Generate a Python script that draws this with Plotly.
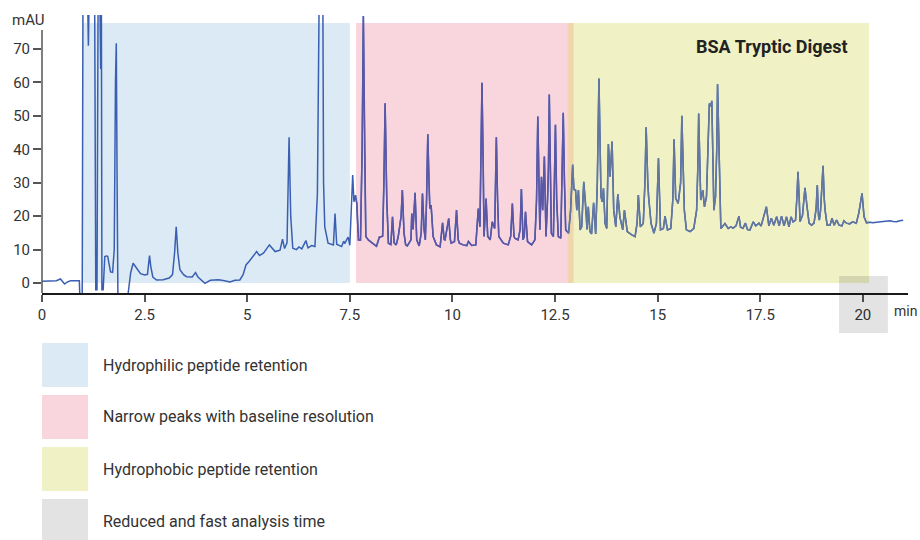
import numpy as np
import plotly.graph_objects as go

# chromatogram (time in min, absorbance in mAU)
time_min = [
    0.00, 0.20, 0.35, 0.45, 0.50, 0.55, 0.62, 0.70, 0.91, 0.92, 0.98, 1.00, 1.10, 1.13, 1.16,
    1.28, 1.31, 1.34, 1.37, 1.40, 1.43, 1.445, 1.46, 1.49, 1.53, 1.57, 1.60, 1.67, 1.72, 1.76,
    1.79, 1.81, 1.83, 1.85, 1.95, 2.05, 2.10, 2.16, 2.22, 2.30, 2.40, 2.50, 2.57, 2.60, 2.62,
    2.65, 2.70, 2.79, 2.95, 3.10, 3.18, 3.23, 3.27, 3.31, 3.36, 3.45, 3.52, 3.66, 3.74, 3.80,
    3.97, 4.10, 4.30, 4.45, 4.58, 4.70, 4.82, 4.90, 4.97, 5.05, 5.15, 5.23, 5.30, 5.40, 5.54,
    5.62, 5.68, 5.80, 5.86, 5.91, 5.97, 6.02, 6.06, 6.11, 6.20, 6.26, 6.33, 6.43, 6.48, 6.57,
    6.65, 6.71, 6.74, 6.76, 6.84, 6.86, 6.89, 6.97, 7.10, 7.14, 7.18, 7.30, 7.35, 7.38, 7.42,
    7.46, 7.50, 7.57, 7.60, 7.64, 7.67, 7.71, 7.76, 7.80, 7.83, 7.86, 7.89, 7.95, 8.07, 8.15,
    8.22, 8.30, 8.33, 8.36, 8.40, 8.44, 8.50, 8.54, 8.58, 8.63, 8.68, 8.75, 8.78, 8.82, 8.86,
    8.90, 8.99, 9.01, 9.04, 9.09, 9.13, 9.19, 9.24, 9.27, 9.31, 9.34, 9.37, 9.40, 9.43, 9.45,
    9.48, 9.53, 9.61, 9.70, 9.76, 9.80, 9.82, 9.87, 9.91, 9.95, 9.97, 10.05, 10.10, 10.14, 10.17,
    10.26, 10.35, 10.39, 10.47, 10.57, 10.63, 10.67, 10.70, 10.72, 10.75, 10.77, 10.82, 10.86, 10.92, 10.97,
    11.03, 11.05, 11.07, 11.10, 11.13, 11.24, 11.36, 11.42, 11.46, 11.50, 11.52, 11.60, 11.65, 11.68, 11.72,
    11.75, 11.78, 11.83, 11.93, 12.01, 12.05, 12.08, 12.11, 12.13, 12.17, 12.20, 12.24, 12.28, 12.32, 12.34,
    12.36, 12.39, 12.41, 12.46, 12.49, 12.51, 12.54, 12.58, 12.64, 12.67, 12.70, 12.73, 12.76, 12.83, 12.88,
    12.93, 12.96, 13.00, 13.03, 13.07, 13.11, 13.15, 13.20, 13.25, 13.28, 13.31, 13.35, 13.39, 13.44, 13.49,
    13.53, 13.57, 13.60, 13.62, 13.65, 13.68, 13.72, 13.76, 13.80, 13.84, 13.89, 13.93, 13.98, 14.03, 14.08,
    14.15, 14.19, 14.26, 14.37, 14.45, 14.50, 14.53, 14.58, 14.65, 14.69, 14.72, 14.76, 14.78, 14.84, 14.91,
    14.97, 15.02, 15.07, 15.14, 15.18, 15.24, 15.32, 15.37, 15.40, 15.44, 15.50, 15.56, 15.59, 15.62, 15.65,
    15.70, 15.79, 15.88, 15.95, 15.98, 16.00, 16.03, 16.05, 16.10, 16.14, 16.19, 16.23, 16.26, 16.29, 16.32,
    16.35, 16.37, 16.41, 16.44, 16.46, 16.49, 16.51, 16.54, 16.64, 16.72, 16.78, 16.84, 16.91, 16.98, 17.02,
    17.08, 17.14, 17.19, 17.25, 17.33, 17.39, 17.47, 17.52, 17.57, 17.65, 17.71, 17.77, 17.83, 17.90, 17.96,
    18.02, 18.08, 18.14, 18.20, 18.25, 18.30, 18.36, 18.39, 18.42, 18.45, 18.47, 18.53, 18.56, 18.59, 18.64,
    18.69, 18.75, 18.81, 18.86, 18.89, 18.92, 18.94, 18.97, 19.00, 19.03, 19.06, 19.08, 19.13, 19.20, 19.25,
    19.30, 19.36, 19.42, 19.49, 19.54, 19.60, 19.68, 19.75, 19.84, 19.90, 19.98, 20.03, 20.09, 20.17, 20.25,
    20.33, 20.41, 20.50, 20.58, 20.66, 20.74, 20.82, 20.90, 20.98,
]
absorbance_mau = [
    0.5, 0.6, 0.7, 1.2, 0.6, -0.3, 0.3, 0.7, 0.7, -3.5, -3.5, 95, 95, 71, 95,
    95, -2, -2, 95, 95, 64, 95, -2, -2, 7.9, 8.1, 8.0, 3.3, 3.2, 10,
    60, 71.7, 30, -5, -5, -5, -3, 3, 5.9, 4.5, 2.8, 2.4, 2.6, 6, 8.2,
    5, 1.8, 0.9, 1.0, 1.5, 2.5, 9, 16.8, 9, 4, 2.5, 1.9, 1.8, 3.1, 1.8,
    -0.1, 0.8, 1.0, 0.7, 0.3, 0.8, 0.9, 2.5, 5.4, 6.5, 8.0, 9.4, 8.2, 9.0, 11.4,
    10.2, 9.4, 9.8, 13.1, 10.3, 12, 43.6, 20, 10.4, 10.0, 10.8, 10.2, 12.7, 10.5, 11.2,
    10.9, 26.8, 60, 95, 95, 30, 16.8, 11.9, 11.4, 20.8, 11.6, 10.9, 12.5, 11.8, 12.9,
    13.7, 11.3, 32.3, 24.3, 26.3, 23.7, 12.9, 12.9, 40, 79.9, 40, 13.9, 12.9, 11.9, 11.0,
    13.7, 14, 30, 53.8, 25, 11.9, 11.5, 19.8, 12, 11.4, 13.9, 20, 27.8, 15, 11.4,
    11.1, 12.9, 20.8, 16, 27.0, 12.9, 11.1, 15, 26.8, 16, 12.9, 25, 44.5, 30, 22.3,
    23.3, 13.9, 11.4, 10.8, 18.0, 13, 12.9, 17, 19.3, 13, 11.9, 12.4, 21.8, 13, 11.9,
    11.4, 11.2, 12.4, 11.2, 11.4, 22.3, 16.8, 40, 59.9, 35, 13.9, 25.3, 13.9, 12.9, 18.3,
    16.3, 30, 43.6, 25, 13.9, 11.9, 11.4, 14, 23.8, 14, 13.4, 12.9, 16, 28.1, 12.9,
    14, 21.3, 12.4, 11.4, 12.9, 25, 49.8, 25, 15.9, 31.8, 21.8, 37.8, 13.9, 25.8, 35,
    56.4, 30, 14.9, 13.9, 30, 47.3, 25, 13.9, 13.4, 30, 50.9, 30, 15.9, 14.9, 21.8,
    35.4, 28, 27.8, 21.8, 27.8, 15.9, 16.8, 30.3, 22.8, 16, 22.8, 15.4, 14.7, 24.0, 14.7,
    30, 61.2, 35, 25.8, 24.3, 28.3, 17.8, 16.3, 41.6, 31.8, 42.3, 21.8, 16.8, 26.6, 19.8,
    15.9, 21.8, 15.4, 14.4, 13.9, 18, 26.3, 16.8, 17.8, 30, 46.6, 30, 25.8, 17.8, 14.9,
    17.8, 37.3, 15.9, 16.3, 20.0, 15.9, 16.3, 25, 43.0, 25.3, 23.8, 30, 50.0, 30, 21.8,
    15.9, 15.4, 16.3, 21.8, 35, 50.7, 35, 24.8, 27.8, 22.8, 25.8, 40, 53.7, 52.7, 54.5,
    35, 21.8, 25.8, 40, 59.5, 40, 25.8, 16.3, 17.8, 16.3, 16.8, 16.4, 17.1, 20.0, 16.7,
    16.4, 17.9, 16.0, 15.9, 18.3, 17.1, 17.9, 17.0, 19.4, 22.8, 17.1, 19.4, 17.3, 19.8, 17.1,
    20.0, 17.1, 19.8, 16.8, 19.8, 18.3, 18.8, 25, 33.3, 25, 18.3, 20.3, 25, 28.5, 22.8,
    17.9, 17.3, 17.9, 22, 29.3, 20, 18.8, 21.8, 28, 35.1, 25, 21.8, 17.3, 17.3, 19.4,
    17.3, 18.8, 17.3, 17.1, 18.6, 17.9, 17.7, 18.3, 17.9, 20.8, 26.8, 19.8, 18.0, 18.2, 18.0,
    18.2, 18.3, 18.2, 18.3, 18.6, 18.4, 18.3, 18.6, 18.8,
]

# shaded retention windows
region_names = ["Hydrophilic peptide retention",
                "Narrow peaks with baseline resolution",
                "Hydrophobic peptide retention"]
region_start = [1.0, 7.65, 12.8]
region_end = [7.5, 12.95, 20.15]
region_fill = ["#dbeaf5", "#f9d6de", "#f0f1c5"]
region_line = ["#3a5fb2", "#5b56a5", "#63779f"]
region_top = 77.8

overlap_fill = "#efd6ad"
fast_label = "Reduced and fast analysis time"
fast_fill = "#e3e3e3"
fast_start, fast_end = 19.42, 20.61

x_range = [0, 21.1]
y_range = [-2.99, 80.17]
x_ticks = [0, 2.5, 5, 7.5, 10, 12.5, 15, 17.5, 20]
y_ticks = [0, 10, 20, 30, 40, 50, 60, 70]

FONT = "Roboto, Arial, sans-serif"

t = np.array(time_min)
a = np.array(absorbance_mau)

fig = go.Figure()

# whole trace in blue, then each shaded window re-drawn in its tint
fig.add_trace(go.Scatter(x=t, y=a, mode="lines", line=dict(color="#3a5fb2", width=1.5),
                         showlegend=False, hoverinfo="skip"))
for i in range(1, 3):
    lo = region_start[i]
    hi = region_end[i] if i == 2 else region_start[2]
    m = (t > lo) & (t < hi)
    xs = np.concatenate([[lo], t[m], [hi]])
    ys = np.concatenate([[np.interp(lo, t, a)], a[m], [np.interp(hi, t, a)]])
    fig.add_trace(go.Scatter(x=xs, y=ys, mode="lines", line=dict(color=region_line[i], width=1.5),
                             showlegend=False, hoverinfo="skip"))

shapes = []
for i in range(3):
    shapes.append(dict(type="rect", xref="x", yref="y", x0=region_start[i], x1=region_end[i],
                       y0=0, y1=region_top, fillcolor=region_fill[i], line_width=0, layer="below"))
shapes.append(dict(type="rect", xref="x", yref="y", x0=region_start[2], x1=region_end[1],
                   y0=0, y1=region_top, fillcolor=overlap_fill, line_width=0, layer="below"))

# y axis line stops short of the top of the plot
shapes.append(dict(type="line", xref="paper", yref="y", x0=0, x1=0, y0=y_range[0], y1=75.7,
                   line=dict(color="#555555", width=1.5)))

# grey box around the 20 min tick
span = x_range[1] - x_range[0]
shapes.append(dict(type="rect", xref="paper", yref="paper",
                   x0=(fast_start - x_range[0]) / span, x1=(fast_end - x_range[0]) / span,
                   y0=-0.144, y1=0.061, fillcolor="rgba(0,0,0,0.11)", line_width=0, layer="above"))

# legend swatches below the chart
plot_top, plot_h = 15, 278
legend_names = region_names + [fast_label]
legend_fill = region_fill + [fast_fill]
annotations = []
for i, (name, col) in enumerate(zip(legend_names, legend_fill)):
    top = 343 + i * 52
    bot = top + 44
    shapes.append(dict(type="rect", xref="paper", yref="paper", x0=0, x1=46 / 866,
                       y0=(plot_top + plot_h - bot) / plot_h, y1=(plot_top + plot_h - top) / plot_h,
                       fillcolor=col, line_width=0))
    annotations.append(dict(xref="paper", yref="paper", x=59 / 866,
                            y=(plot_top + plot_h - (top + 22)) / plot_h,
                            text=name, showarrow=False, xanchor="left", yanchor="middle",
                            font=dict(family=FONT, size=16, color="#333333")))

annotations.append(dict(xref="paper", yref="paper", x=-0.016, y=0.982, text="mAU", showarrow=False,
                        xanchor="center", yanchor="middle",
                        font=dict(family=FONT, size=15, color="#333333")))
annotations.append(dict(xref="paper", yref="paper", x=0.981, y=-0.065, text="min", showarrow=False,
                        xanchor="left", yanchor="middle",
                        font=dict(family=FONT, size=14, color="#333333")))
annotations.append(dict(xref="paper", yref="paper", x=0.933, y=0.885, text="<b>BSA Tryptic Digest</b>",
                        showarrow=False, xanchor="right", yanchor="middle",
                        font=dict(family=FONT, size=18, color="#222222")))

fig.update_layout(
    width=920, height=540,
    margin=dict(l=42, r=12, t=15, b=247),
    paper_bgcolor="white", plot_bgcolor="rgba(0,0,0,0)",
    shapes=shapes, annotations=annotations,
    font=dict(family=FONT, size=15, color="#333333"),
    xaxis=dict(range=x_range, tickvals=x_ticks, ticktext=[f"{v:g}" for v in x_ticks],
               showgrid=False, zeroline=False, showline=True, linecolor="#1a1a1a", linewidth=2,
               ticks="outside", ticklen=7, tickwidth=2, tickcolor="#555555",
               tickfont=dict(family=FONT, size=15, color="#333333")),
    yaxis=dict(range=y_range, tickvals=y_ticks, showgrid=False, zeroline=False, showline=False,
               ticks="outside", ticklen=8, tickwidth=1.5, tickcolor="#555555",
               tickfont=dict(family=FONT, size=15, color="#333333")),
)

# the page's default body margin would push the figure 8px in
fig.write_html("out.html", config={"displayModeBar": False},
               post_script="document.body.style.margin='0';")
